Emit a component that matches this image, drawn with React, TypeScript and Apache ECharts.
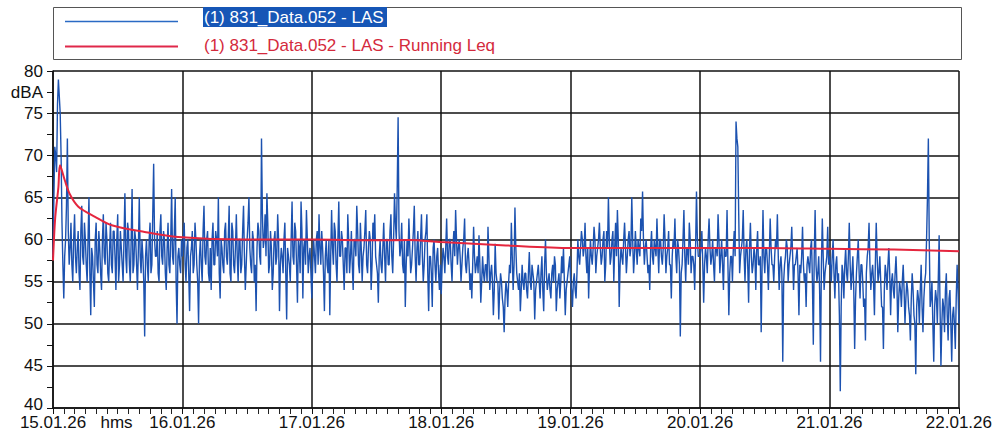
import React, { useEffect, useRef } from "react";
import * as echarts from "echarts";

// Day labels on the time axis (one per midnight)
const dayLabels = ["15.01.26", "16.01.26", "17.01.26", "18.01.26", "19.01.26", "20.01.26", "21.01.26", "22.01.26"];

// LAS levels in dBA on the full 20-minute marks (72 per day, day 7 also holds the closing value)
const day1 = [58, 71, 68, 79, 75, 62, 53, 60, 72, 57, 62, 55, 63, 56, 61, 54, 64, 57, 60, 55, 65, 51, 58, 52, 62, 56, 59, 54, 63, 57, 60, 55, 62, 56, 61, 54, 63, 57, 59, 55, 65.5, 56, 61, 55, 66, 57, 60, 54, 65, 56, 58, 48.5, 60, 55, 62, 57, 69, 58, 61, 55, 63, 57, 60, 54, 62, 56, 66, 57, 65, 50, 59, 56];
const day2 = [58, 62, 55, 60, 51.5, 59, 56, 62, 57, 50, 60, 55, 64, 57, 61, 55, 54, 62, 57, 60, 65, 53, 59, 56, 62, 57, 64, 55, 61, 56, 63, 55, 60, 57, 64, 54, 60, 65, 57, 61, 55, 51.5, 62, 58, 72, 59, 63, 65.5, 56, 61, 54, 60, 57, 63, 51.5, 59, 56, 62, 50.5, 58, 55, 64.5, 57, 61, 52.5, 59, 64.5, 53, 60, 63.5, 56, 59];
const day3 = [53, 60, 56, 61, 63, 57, 59, 51.5, 60, 56, 51, 63.5, 57, 61, 55, 64.5, 58, 60, 54, 59, 63, 56, 61, 54, 60, 64, 57, 62, 55, 59, 63.5, 56, 61, 54, 62, 63, 57, 52.5, 60, 56, 62, 55, 60, 57, 63, 56, 65.5, 60, 74.5, 58, 62, 56, 52, 60, 62.5, 56, 59, 64, 55, 61, 57, 63, 55, 60, 63, 51.5, 58, 52, 60, 55, 59, 54];
const day4 = [53.5, 59, 56, 62.5, 57, 60, 55, 61, 63.5, 57, 60, 55, 59, 62.5, 56, 59, 54, 53, 61.5, 56, 58, 60.5, 52.5, 58, 55, 57, 61.5, 54, 57, 51, 59.5, 55, 50.5, 56, 53, 49, 55, 52, 57, 62, 54, 63.8, 56, 54, 51.5, 57, 54, 56, 53, 58.5, 54, 56, 50.5, 55, 57, 53, 58, 51.5, 60, 54, 56, 53, 57, 58, 51.5, 55, 53, 58, 59, 51, 55, 57];
const day5 = [55, 52, 56, 53, 60, 57, 61, 58, 62, 56, 53, 60, 57, 61.5, 56, 59, 62, 57, 60, 55, 61, 65, 57, 60, 55, 62, 63.5, 52, 59, 57, 62, 56, 60, 58, 65, 56, 61, 57, 59, 62.5, 65.7, 57, 60, 56, 54, 61, 57, 59, 62.5, 56, 60, 57, 63, 56, 59, 57, 53, 60, 62.5, 56, 59, 48.5, 57, 63.5, 55, 59, 62, 56, 58, 54, 65.7, 58];
const day6 = [58, 61, 52.5, 59, 56, 62.5, 57, 60, 55, 59, 63, 56, 60, 54, 58, 63.5, 51, 58, 55, 61, 74, 71, 56, 59, 63.5, 55, 60, 52.5, 62, 56, 59, 54, 61, 57, 49, 63.5, 56, 59, 54, 62.5, 57, 55, 60, 63, 54, 58, 45.5, 57, 60, 55, 58, 61.5, 54, 57, 59, 51, 56, 61.5, 55, 52, 58, 56, 60, 47.5, 63.5, 55, 58, 45.5, 62.5, 54, 57, 61.5];
const day7 = [58, 55, 60, 53, 58, 56, 42, 57, 53, 59, 55, 62, 54, 58, 47, 56, 60, 53, 57, 52, 48, 58, 62, 54, 57, 51, 62, 55, 58, 52, 47, 57, 54, 59, 51, 56, 53, 58, 49, 55, 52, 57, 50, 55, 52, 48, 56, 51, 44, 54, 50, 57, 49, 55, 60, 72, 52, 55, 45.5, 54, 50, 60.5, 45, 53, 49, 56, 48, 54, 45.5, 52, 47, 57, 50];

// LAS levels in dBA ten minutes after each of the marks above
const day1Mid = [65, 70, 76, 77, 70, 57, 58, 64, 61, 59, 57, 60, 58, 59, 56, 61, 58, 62, 57, 60, 56, 59, 55, 60, 57, 61, 56, 60, 58, 62, 56, 59, 57, 61, 58, 60, 55, 61, 57, 60, 58, 62, 57, 60, 56, 61, 57, 59, 58, 60, 55, 58, 57, 60, 56, 63, 60, 58, 56, 61, 58, 61, 56, 59, 57, 60, 58, 61, 55, 58, 57, 60];
const day2Mid = [60, 57, 59, 56, 58, 61, 57, 60, 55, 58, 57, 61, 58, 60, 56, 59, 60, 57, 61, 58, 56, 60, 57, 61, 58, 60, 56, 62, 57, 59, 58, 60, 56, 61, 58, 57, 62, 59, 56, 60, 57, 59, 61, 57, 63, 60, 58, 62, 57, 59, 56, 61, 58, 60, 57, 58, 60, 56, 59, 57, 60, 58, 62, 57, 60, 56, 61, 59, 57, 60, 58, 56];
const day3Mid = [57, 58, 60, 57, 59, 61, 56, 58, 57, 60, 58, 59, 62, 57, 60, 58, 61, 57, 59, 56, 60, 58, 57, 60, 58, 61, 56, 59, 58, 61, 57, 59, 60, 57, 60, 58, 56, 58, 57, 59, 58, 60, 57, 61, 58, 60, 62, 66, 61, 59, 57, 60, 57, 58, 59, 57, 61, 58, 59, 57, 60, 58, 57, 61, 56, 58, 56, 59, 57, 58, 56, 57];
const day4Mid = [57, 58, 59, 58, 60, 57, 59, 58, 60, 59, 58, 57, 60, 57, 58, 57, 56, 57, 58, 57, 56, 57, 55, 56, 57, 55, 58, 56, 55, 54, 56, 55, 54, 55, 52, 53, 54, 55, 56, 58, 57, 59, 55, 56, 54, 55, 56, 54, 56, 55, 57, 55, 54, 56, 55, 56, 54, 57, 56, 55, 54, 56, 55, 57, 54, 56, 55, 56, 55, 54, 56, 58];
const day5Mid = [54, 55, 54, 56, 58, 59, 60, 59, 58, 59, 57, 58, 59, 60, 58, 60, 59, 58, 61, 57, 59, 60, 58, 61, 59, 58, 60, 57, 58, 60, 59, 58, 61, 59, 60, 58, 59, 60, 58, 61, 60, 59, 58, 57, 59, 58, 60, 58, 59, 60, 58, 59, 60, 58, 61, 57, 58, 59, 58, 60, 57, 56, 60, 58, 59, 57, 60, 58, 57, 59, 60, 58];
const day6Mid = [59, 57, 57, 58, 60, 59, 58, 57, 59, 58, 60, 58, 57, 59, 58, 57, 56, 58, 59, 58, 72, 63, 58, 60, 58, 59, 57, 59, 58, 57, 58, 59, 57, 58, 57, 58, 59, 57, 58, 59, 57, 58, 59, 58, 57, 56, 55, 58, 59, 57, 59, 58, 57, 58, 56, 57, 58, 57, 56, 57, 57, 59, 55, 58, 57, 56, 54, 57, 58, 56, 58, 57];
const day7Mid = [57, 58, 56, 57, 55, 51, 52, 56, 57, 56, 58, 57, 56, 54, 53, 58, 56, 57, 55, 53, 56, 59, 57, 56, 55, 57, 58, 56, 55, 52, 54, 56, 57, 56, 55, 54, 56, 55, 53, 54, 55, 54, 53, 54, 51, 53, 54, 50, 52, 53, 54, 52, 53, 56, 65, 60, 53, 50, 52, 53, 55, 52, 50, 52, 54, 51, 53, 50, 51, 50, 53, 54];

// Running Leq: elapsed hours and level in dBA
const leqHours = [0, 0.4, 1.0, 1.3, 2.2, 3.1, 4.7, 7.8, 10.9, 17, 23.2, 35.6, 48, 60, 66, 72, 84, 96, 108, 120, 132, 144, 156, 168];
const leqValues = [57.5, 62.5, 66.2, 68.8, 67.0, 65.4, 63.9, 62.7, 61.7, 60.9, 60.3, 60.0, 60.0, 59.9, 59.95, 59.7, 59.3, 59.0, 59.0, 59.0, 59.0, 58.9, 58.8, 58.6];

const seriesNames = ["(1) 831_Data.052 - LAS", "(1) 831_Data.052 - LAS - Running Leq"];

const FONT = "Liberation Sans, Arial, sans-serif";
const BLUE = "#1c52b0";
const RED = "#e5263e";

export default function App() {
  const ref = useRef<HTMLDivElement>(null);

  useEffect(() => {
    if (!ref.current) return;
    const chart = echarts.init(ref.current, undefined, { renderer: "svg" });

    // Merge the 20-minute marks with their 10-minute companions, as [hour, dBA]
    const marks = [day1, day2, day3, day4, day5, day6, day7];
    const mids = [day1Mid, day2Mid, day3Mid, day4Mid, day5Mid, day6Mid, day7Mid];
    const lasData: number[][] = [];
    marks.forEach((day, d) => {
      mids[d].forEach((mid, i) => {
        lasData.push([24 * d + i / 3, day[i]]);
        lasData.push([24 * d + i / 3 + 1 / 6, mid]);
      });
    });
    lasData.push([168, day7[72]]);
    const leqData = leqHours.map((h, k) => [h, leqValues[k]]);

    chart.setOption({
      animation: false,
      backgroundColor: "#ffffff",
      grid: { left: 53, right: 35, top: 71, bottom: 30, containLabel: false },
      xAxis: {
        type: "value",
        min: 0,
        max: 168,
        interval: 24,
        axisLine: { show: true, lineStyle: { color: "#111", width: 1.5 } },
        axisTick: { show: true, length: 6, lineStyle: { color: "#111", width: 1 } },
        minorTick: { show: true, splitNumber: 12, length: 6, lineStyle: { color: "#222", width: 1 } },
        axisLabel: {
          margin: 7,
          color: "#111",
          fontFamily: FONT,
          fontSize: 17,
          lineHeight: 14,
          formatter: (v: number) => dayLabels[Math.round(v / 24)] ?? "",
        },
        splitLine: { show: true, lineStyle: { color: "#111", width: 1.5 } },
      },
      yAxis: [
        {
          type: "value",
          min: 40,
          max: 80,
          interval: 2.5,
          axisLine: { show: true, lineStyle: { color: "#111", width: 1.5 } },
          axisTick: { show: true, length: 6, lineStyle: { color: "#111", width: 1 } },
          axisLabel: {
            margin: 10,
            color: "#111",
            fontFamily: FONT,
            fontSize: 17,
            lineHeight: 12,
            // the bottom label sits a little higher, clear of the date row
            formatter: (v: number) =>
              v === 40 ? "{low|40}" : v % 5 === 0 ? String(v) : v === 77.5 ? "dBA" : "",
            rich: {
              low: { fontFamily: FONT, fontSize: 17, color: "#111", lineHeight: 12, padding: [0, 0, 7, 0] },
            },
          },
          splitLine: { show: false },
        },
        {
          type: "value",
          min: 40,
          max: 80,
          interval: 5,
          position: "left",
          axisLine: { show: false },
          axisTick: { show: false },
          axisLabel: { show: false },
          splitLine: { show: true, lineStyle: { color: "#111", width: 1.5 } },
        },
      ],
      series: [
        {
          name: seriesNames[0],
          type: "line",
          yAxisIndex: 0,
          data: lasData,
          showSymbol: false,
          lineStyle: { color: BLUE, width: 1.4 },
          z: 3,
        },
        {
          name: seriesNames[1],
          type: "line",
          yAxisIndex: 0,
          data: leqData,
          showSymbol: false,
          smooth: 0.3,
          lineStyle: { color: RED, width: 2 },
          z: 4,
        },
      ],
      graphic: [
        {
          type: "rect",
          shape: { x: 53.5, y: 7.5, width: 908, height: 52 },
          style: { fill: "#ffffff", stroke: "#555", lineWidth: 1 },
        },
        {
          type: "line",
          shape: { x1: 65, y1: 21.5, x2: 178, y2: 21.5 },
          style: { stroke: "#2a6ac4", lineWidth: 1.5 },
        },
        {
          type: "line",
          shape: { x1: 65, y1: 46.5, x2: 178, y2: 46.5 },
          style: { stroke: "#e0284a", lineWidth: 2 },
        },
        {
          type: "rect",
          shape: { x: 203, y: 7, width: 184, height: 20 },
          style: { fill: "#1656b6" },
        },
        {
          type: "text",
          x: 204,
          y: 17.5,
          style: {
            text: seriesNames[0],
            fill: "#ffffff",
            font: `17px ${FONT}`,
            verticalAlign: "middle",
            align: "left",
          },
        },
        {
          type: "text",
          x: 204,
          y: 45,
          style: {
            text: seriesNames[1],
            fill: "#d42a3c",
            font: `17px ${FONT}`,
            verticalAlign: "middle",
            align: "left",
          },
        },
        {
          type: "text",
          x: 116.5,
          y: 415,
          style: {
            text: "hms",
            fill: "#111",
            font: `17px ${FONT}`,
            lineHeight: 14,
            verticalAlign: "top",
            align: "center",
          },
        },
      ],
    });

    return () => chart.dispose();
  }, []);

  return (
    <div
      ref={ref}
      style={{ position: "absolute", left: 0, top: 0, width: 995, height: 438, background: "#fff" }}
    />
  );
}
